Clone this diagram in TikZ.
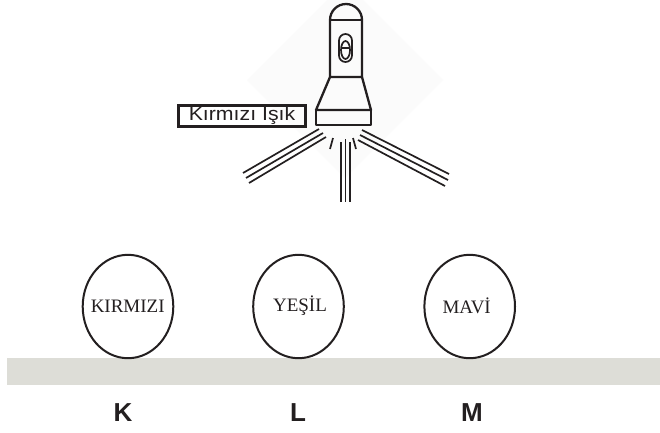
\documentclass[tikz,border=0pt]{standalone}
\usepackage{fontspec}
\setmainfont{Liberation Serif}
\newfontfamily\sansfont{Liberation Sans}
\newfontfamily\tagfont[FakeStretch=1.12]{Liberation Sans}
\definecolor{ink}{RGB}{35,31,32}
\definecolor{shelf}{RGB}{221,221,215}
\definecolor{glow}{RGB}{251,251,251}
\tikzset{
  ink line/.style={draw=ink, line width=2.3pt, line join=round},
  ray/.style={draw=ink, line width=1.7pt},
  ball/.style={draw=ink, line width=2pt, ellipse, minimum width=90.6pt, minimum height=103.4pt, inner sep=0pt},
  ball text/.style={text=ink, font=\fontsize{19}{21}\selectfont},
  letter/.style={text=ink, font=\sansfont\bfseries\fontsize{26}{28}\selectfont},
  tag/.style={draw=ink, line width=3pt, minimum width=127pt, minimum height=21pt, inner sep=0pt,
    text=ink, font=\tagfont\fontsize{19}{21}\selectfont}
}
\usetikzlibrary{shapes.geometric}
\begin{document}
\begin{tikzpicture}[x=1pt,y=-1pt]
\useasboundingbox (0,0) rectangle (660,432);
\fill[white] (0,0) rectangle (660,432);

% faint glow behind the torch
\fill[glow] (345,-18) -- (443,80) -- (345,178) -- (247,80) -- cycle;

% shelf
\fill[shelf] (7,358) rectangle (660,385);

% coloured balls
\node[ball] (k) at (128,306.5) {};
\node[ball] (l) at (298.5,306.5) {};
\node[ball] (m) at (469.7,306.5) {};
\node[ball text] (kt) at (127.7,306) {KIRMIZI};
\node[ball text] (lt) at (300,306) {YEŞİL};
\node[ball text] (mt) at (466.7,306) {MAVİ};

% letters under the shelf
\node[letter] (K) at (123,413) {K};
\node[letter] (L) at (298,413) {L};
\node[letter] (M) at (472,413) {M};

% torch: dome and body
\draw[ink line] (330,77) -- (330,20) arc[start angle=180, end angle=360, radius=16] -- (362,77) -- cycle;
\draw[ink line] (330,20) -- (362,20);
% cone and head
\draw[ink line] (330,77) -- (316,110) -- (371,110) -- (362,77);
\draw[ink line] (316,110) rectangle (371,125);
% switch
\draw[ink line, line width=1.7pt, rounded corners=6.5pt] (339,34) rectangle (352,62);
\draw[ink line, line width=1.7pt] (345.5,50) ellipse[x radius=4.5, y radius=9];
\draw[ink line, line width=1.7pt] (341,48) -- (350,48);

% label
\node[tag] (tag) at (242,116) {Kırmızı Işık};

% light rays
\draw[ray] (319,129) -- (243,173);
\draw[ray] (323,133) -- (246,178);
\draw[ray] (326,137) -- (249,183);
\draw[ray] (362,130) -- (449,174);
\draw[ray] (360,135) -- (448,180);
\draw[ray] (358,140) -- (445,186);
\draw[ray] (341,142) -- (341,202);
\draw[ray] (345.5,139) -- (345.5,202);
\draw[ray] (350,142) -- (350,202);
\draw[ray] (333,138) -- (330,149);
\draw[ray] (353,138) -- (356,149);
\end{tikzpicture}
\end{document}
